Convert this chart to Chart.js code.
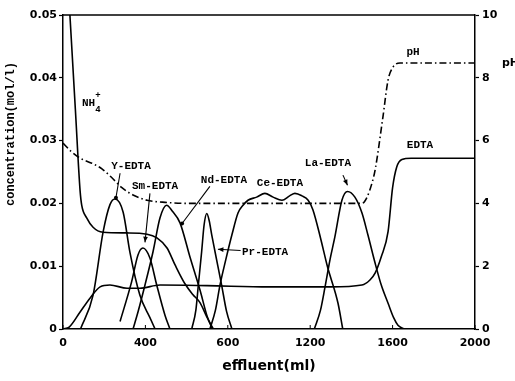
<!DOCTYPE html>
<html>
<head>
<meta charset="utf-8">
<script src="https://cdn.jsdelivr.net/npm/chart.js@4/dist/chart.umd.min.js"></script>
<style>
  html, body { margin: 0; padding: 0; background: #fff; }
  #wrap { width: 515px; height: 381px; }
</style>
</head>
<body>
<div id="wrap"><canvas id="chart"></canvas></div>
<script>
// tick labels as printed on the figure (the third x label really reads "600")
const xTickLabels = ["0", "400", "600", "1200", "1600", "2000"];
const yTickLabels = ["0", "0.01", "0.02", "0.03", "0.04", "0.05"];
const phTickLabels = ["0", "2", "4", "6", "8", "10"];

// effluent volume (ml) and concentration (mol/l)
const nh4Ml = [30, 60, 83, 91, 115, 146, 194, 311, 408, 456, 505, 544, 592, 630, 665, 700, 730];
const nh4Conc = [0.052, 0.035, 0.022, 0.0197, 0.0177, 0.0162, 0.0154, 0.0153, 0.0151, 0.0145, 0.0129, 0.0102, 0.0072, 0.0055, 0.0042, 0.0018, 0];

const edtaMl = [0, 30, 83, 131, 180, 228, 311, 373, 471, 700, 1000, 1300, 1451, 1490, 1515, 1545, 1578, 1600, 1620, 1645, 1690, 2000];
const edtaConc = [0, 0.0003, 0.0027, 0.0049, 0.0067, 0.007, 0.0065, 0.0065, 0.007, 0.0069, 0.0067, 0.0067, 0.007, 0.0078, 0.0089, 0.0115, 0.0155, 0.0225, 0.0258, 0.027, 0.0272, 0.0272];

const phMl = [0, 40, 83, 140, 189, 240, 286, 340, 408, 505, 600, 1000, 1451, 1476, 1500, 1515, 1553, 1578, 1602, 1636, 2000];
const phValue = [5.92, 5.65, 5.44, 5.28, 5.1, 4.8, 4.5, 4.27, 4.1, 4.03, 4.0, 4.0, 4.0, 4.2, 4.65, 5.06, 6.75, 7.93, 8.34, 8.47, 8.47];

const yMl = [85, 146, 195, 228, 252, 292, 325, 373, 422, 447];
const yConc = [0, 0.0054, 0.0155, 0.0198, 0.0207, 0.0186, 0.0122, 0.0054, 0.0018, 0];

const smMl = [277, 333, 364, 388, 422, 455, 495, 519];
const smConc = [0.0012, 0.0075, 0.0118, 0.0129, 0.0113, 0.007, 0.0022, 0];

const ndMl = [340, 364, 398, 437, 471, 503, 530, 568, 616, 665, 700, 725];
const ndConc = [0, 0.0027, 0.007, 0.0123, 0.0177, 0.0197, 0.0188, 0.0169, 0.0115, 0.0062, 0.002, 0];

const prMl = [625, 645, 657, 673, 685, 698, 710, 722, 738, 770, 794, 820];
const prConc = [0, 0.003, 0.007, 0.0123, 0.0166, 0.0184, 0.0172, 0.015, 0.0123, 0.007, 0.0028, 0];

const ceMl = [713, 740, 762, 790, 820, 850, 874, 898, 940, 980, 1020, 1063, 1100, 1126, 1160, 1190, 1213, 1250, 1284, 1335, 1358];
const ceConc = [0, 0.003, 0.007, 0.011, 0.015, 0.0185, 0.0197, 0.0205, 0.021, 0.0216, 0.021, 0.0205, 0.0212, 0.0216, 0.0212, 0.0205, 0.019, 0.0145, 0.0099, 0.0041, 0];

const laMl = [1220, 1250, 1272, 1296, 1320, 1354, 1381, 1417, 1451, 1480, 1515, 1545, 1578, 1605, 1626, 1655];
const laConc = [0, 0.003, 0.0067, 0.011, 0.0147, 0.0205, 0.0219, 0.021, 0.0185, 0.015, 0.0105, 0.007, 0.0041, 0.0018, 0.0006, 0];

const ink = "#000";
const markFont = "bold 11px 'Liberation Mono'";

// curve labels, anchored in data units (ml, mol/l)
const notes = [
    { text: "Y-EDTA", ml: 330, c: 0.0259 },
    { text: "Sm-EDTA", ml: 447, c: 0.0227 },
    { text: "Nd-EDTA", ml: 781, c: 0.0237 },
    { text: "Ce-EDTA", ml: 1053, c: 0.0232 },
    { text: "La-EDTA", ml: 1286, c: 0.0264 },
    { text: "Pr-EDTA", ml: 869, c: 0.0123, align: "left" },
    { text: "pH", ml: 1699, c: 0.0440 },
    { text: "EDTA", ml: 1733, c: 0.0293 },
];

const pointers = [
    { from: [277, 0.0248], to: [257, 0.0209], end: "dot" },
    { from: [422, 0.0216], to: [398, 0.0138], end: "arrow" },
    { from: [713, 0.0227], to: [578, 0.0168], end: "dot" },
    { from: [1359, 0.0245], to: [1381, 0.0229], end: "arrow" },
    { from: [862, 0.0125], to: [752, 0.0127], end: "arrow" },
];

function pairUp(xs, ys) {
    return xs.map((x, i) => ({ x: x, y: ys[i] }));
}

function curve(label, xs, ys, axis, dash) {
    return {
        label: label,
        data: pairUp(xs, ys),
        yAxisID: axis || "y",
        borderColor: ink,
        borderWidth: 1.6,
        borderDash: dash || [],
        pointRadius: 0,
        fill: false,
        tension: 0.4,
        cubicInterpolationMode: "monotone",
    };
}

const figureText = {
    id: "figureText",
    afterDatasetsDraw(chart) {
        const ctx = chart.ctx;
        const xs = chart.scales.x;
        const ys = chart.scales.y;
        const area = chart.chartArea;
        ctx.save();
        ctx.strokeStyle = ink;
        ctx.fillStyle = ink;

        // top edge of the frame
        ctx.lineWidth = 1.5;
        ctx.beginPath();
        ctx.moveTo(area.left, area.top);
        ctx.lineTo(area.right, area.top);
        ctx.stroke();

        // small inward ticks on the bottom axis
        ctx.lineWidth = 1;
        xs.ticks.forEach((t) => {
            const px = xs.getPixelForValue(t.value);
            ctx.beginPath();
            ctx.moveTo(px, area.bottom);
            ctx.lineTo(px, area.bottom - 4);
            ctx.stroke();
        });

        ctx.font = markFont;
        ctx.textBaseline = "middle";
        notes.forEach((n) => {
            ctx.textAlign = n.align || "center";
            ctx.fillText(n.text, xs.getPixelForValue(n.ml), ys.getPixelForValue(n.c));
        });

        // NH4+ with sub/superscript
        const nx = xs.getPixelForValue(92);
        const ny = ys.getPixelForValue(0.036);
        ctx.textAlign = "left";
        ctx.fillText("NH", nx, ny);
        const w = ctx.measureText("NH").width;
        ctx.font = "bold 9px 'Liberation Mono'";
        ctx.fillText("+", nx + w, ny - 7);
        ctx.fillText("4", nx + w, ny + 7);

        ctx.lineWidth = 1.1;
        pointers.forEach((p) => {
            const x1 = xs.getPixelForValue(p.from[0]);
            const y1 = ys.getPixelForValue(p.from[1]);
            const x2 = xs.getPixelForValue(p.to[0]);
            const y2 = ys.getPixelForValue(p.to[1]);
            ctx.beginPath();
            ctx.moveTo(x1, y1);
            ctx.lineTo(x2, y2);
            ctx.stroke();
            if (p.end === "dot") {
                ctx.beginPath();
                ctx.arc(x2, y2, 2, 0, Math.PI * 2);
                ctx.fill();
            } else {
                const a = Math.atan2(y2 - y1, x2 - x1);
                ctx.beginPath();
                ctx.moveTo(x2, y2);
                ctx.lineTo(x2 - 6 * Math.cos(a - 0.4), y2 - 6 * Math.sin(a - 0.4));
                ctx.lineTo(x2 - 6 * Math.cos(a + 0.4), y2 - 6 * Math.sin(a + 0.4));
                ctx.closePath();
                ctx.fill();
            }
        });

        // axis titles
        ctx.font = "bold 14px 'DejaVu Sans'";
        ctx.textAlign = "center";
        ctx.textBaseline = "middle";
        ctx.fillText("effluent(ml)", (area.left + area.right) / 2, 366);

        ctx.font = "bold 11px 'DejaVu Sans'";
        ctx.textAlign = "left";
        ctx.fillText("pH", area.right + 27, ys.getPixelForValue(0.0423));

        ctx.translate(11, 134);
        ctx.rotate(-Math.PI / 2);
        ctx.textAlign = "center";
        ctx.font = "bold 12px 'Liberation Mono'";
        ctx.fillText("concentration(mol/l)", 0, 0);
        ctx.restore();
    },
};

const tickFont = { family: "DejaVu Sans", size: 11, weight: "bold" };

new Chart(document.getElementById("chart"), {
    type: "line",
    data: {
        datasets: [
            curve("NH4+", nh4Ml, nh4Conc),
            curve("EDTA", edtaMl, edtaConc),
            curve("pH", phMl, phValue, "y2", [7, 3, 1.5, 3]),
            curve("Y-EDTA", yMl, yConc),
            curve("Sm-EDTA", smMl, smConc),
            curve("Nd-EDTA", ndMl, ndConc),
            curve("Pr-EDTA", prMl, prConc),
            curve("Ce-EDTA", ceMl, ceConc),
            curve("La-EDTA", laMl, laConc),
        ],
    },
    options: {
        responsive: true,
        maintainAspectRatio: false,
        animation: false,
        layout: { padding: { top: 15, left: 0, right: 0, bottom: 0 } },
        plugins: { legend: { display: false }, tooltip: { enabled: false } },
        scales: {
            x: {
                type: "linear",
                min: 0,
                max: 2000,
                afterFit: (s) => { s.height = 52; },
                ticks: {
                    stepSize: 400,
                    color: ink,
                    font: tickFont,
                    padding: 8,
                    maxRotation: 0,
                    callback: (v, i) => xTickLabels[i],
                },
                grid: { display: true, drawOnChartArea: false, drawTicks: false, color: ink },
                border: { display: true, color: ink, width: 1.5 },
            },
            y: {
                position: "left",
                min: 0,
                max: 0.05,
                afterFit: (s) => { s.width = 63; },
                ticks: {
                    count: 6,
                    color: ink,
                    font: tickFont,
                    padding: 2,
                    callback: (v, i) => yTickLabels[i],
                },
                grid: { drawOnChartArea: false, drawTicks: true, tickLength: 4, color: ink, tickWidth: 1.2 },
                border: { display: true, color: ink, width: 1.5 },
            },
            y2: {
                position: "right",
                min: 0,
                max: 10,
                afterFit: (s) => { s.width = 40; },
                ticks: {
                    count: 6,
                    color: ink,
                    font: tickFont,
                    padding: 3,
                    callback: (v, i) => phTickLabels[i],
                },
                grid: { drawOnChartArea: false, drawTicks: true, tickLength: 4, color: ink, tickWidth: 1.2 },
                border: { display: true, color: ink, width: 1.5 },
            },
        },
    },
    plugins: [figureText],
});
</script>
</body>
</html>
